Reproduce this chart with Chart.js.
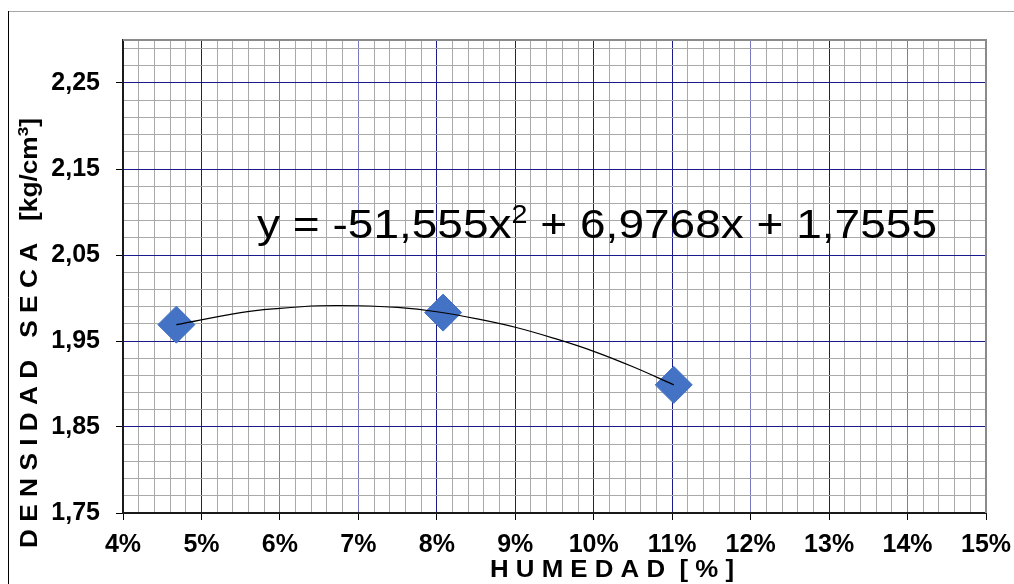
<!DOCTYPE html>
<html>
<head>
<meta charset="utf-8">
<script src="https://cdn.jsdelivr.net/npm/chart.js@4/dist/chart.umd.min.js"></script>
<style>
html,body{margin:0;padding:0;background:#fff;overflow:hidden}
#wrap{position:relative;width:1014px;height:584px}
canvas{display:block}
</style>
</head>
<body>
<div id="wrap"><canvas id="c" width="1014" height="584"></canvas></div>
<script>
// ---- data ----
const humedad = [4.68, 8.08, 11.02];            // x, %
const densidad = [1.969, 1.983, 1.899];         // y, kg/cm3
const trendX = [4.68, 5.5, 6.0, 6.5, 7.0, 7.5, 8.0, 8.5, 9.0, 9.5, 10.0, 10.5, 11.02];
const trendY = [1.969, 1.983, 1.988, 1.991, 1.991, 1.989, 1.984, 1.976, 1.966, 1.953, 1.938, 1.920, 1.899];
const xMajorTicks = [4, 5, 6, 7, 8, 9, 10, 11, 12, 13, 14, 15];
const xTickLabels = ['4%', '5%', '6%', '7%', '8%', '9%', '10%', '11%', '12%', '13%', '14%', '15%'];
const yMajorTicks = [1.75, 1.85, 1.95, 2.05, 2.15, 2.25];
const yTickLabels = ['1,75', '1,85', '1,95', '2,05', '2,15', '2,25'];
const equationParts = ['y = -51,555x', '2', ' + 6,9768x + 1,7555'];
const xTitle = 'H U M E D A D  [ % ]';
const yTitleParts = ['D E N S I D A D   S E C A   [kg/cm', '3', ']'];

// ---- axis settings ----
const X_MIN = 4, X_MAX = 15, X_MINOR = 0.2;
const Y_MIN = 1.75, Y_MAX = 2.30, Y_MINOR = 0.02;
const FONT = '"Liberation Sans", Arial, sans-serif';

function majorIndex(list, v) {
  for (let i = 0; i < list.length; i++) if (Math.abs(list[i] - v) < 1e-6) return i;
  return -1;
}
const lightMajorX = [6, 7, 12, 14];
function xGridColor(v) {
  const i = majorIndex(xMajorTicks, v);
  if (i < 0) return '#a9a9a9';
  return lightMajorX.indexOf(xMajorTicks[i]) >= 0 ? '#7a7ac4' : '#1a1a8c';
}
function yGridColor(v) {
  return majorIndex(yMajorTicks, v) >= 0 ? '#1a1a8c' : '#a9a9a9';
}

const decor = {
  id: 'decor',
  beforeDraw(chart) {
    const ctx = chart.ctx;
    ctx.save();
    ctx.fillStyle = '#fff';
    ctx.fillRect(0, 0, chart.width, chart.height);
    ctx.lineWidth = 1;
    ctx.strokeStyle = '#a6a6a6';
    ctx.beginPath(); ctx.moveTo(8, 11.5); ctx.lineTo(1014, 11.5); ctx.stroke();
    ctx.strokeStyle = '#000';
    ctx.beginPath(); ctx.moveTo(8.5, 11); ctx.lineTo(8.5, 584); ctx.stroke();
    ctx.restore();
  },
  afterDraw(chart) {
    const ctx = chart.ctx;
    const a = chart.chartArea;
    ctx.save();
    // top & right plot border
    ctx.strokeStyle = '#8a8a8a';
    ctx.lineWidth = 2;
    ctx.beginPath();
    ctx.moveTo(a.left, a.top); ctx.lineTo(a.right, a.top); ctx.lineTo(a.right, a.bottom);
    ctx.stroke();

    ctx.fillStyle = '#000';
    ctx.textBaseline = 'alphabetic';
    ctx.textAlign = 'left';

    // equation
    ctx.save();
    const eqFont = '40px ' + FONT, eqSup = '25px ' + FONT;
    ctx.font = eqFont; const w0 = ctx.measureText(equationParts[0]).width;
    const w2 = ctx.measureText(equationParts[2]).width;
    ctx.font = eqSup; const w1 = ctx.measureText(equationParts[1]).width;
    const eqTotal = w0 + w1 + w2;
    ctx.translate(257, 238);
    ctx.scale(680 / eqTotal, 1);
    ctx.font = eqFont; ctx.fillText(equationParts[0], 0, 0);
    ctx.font = eqSup; ctx.fillText(equationParts[1], w0, -15);
    ctx.font = eqFont; ctx.fillText(equationParts[2], w0 + w1, 0);
    ctx.restore();

    // x title
    ctx.save();
    ctx.font = 'bold 23px ' + FONT;
    const xw = ctx.measureText(xTitle).width;
    ctx.translate(490, 577);
    ctx.scale(244 / xw, 1);
    ctx.fillText(xTitle, 0, 0);
    ctx.restore();

    // y title (rotated)
    ctx.save();
    const yf = 'bold 23px ' + FONT, ys = 'bold 15px ' + FONT;
    ctx.font = yf; const y0 = ctx.measureText(yTitleParts[0]).width;
    const y2 = ctx.measureText(yTitleParts[2]).width;
    ctx.font = ys; const y1 = ctx.measureText(yTitleParts[1]).width;
    ctx.translate(37, 548);
    ctx.rotate(-Math.PI / 2);
    ctx.scale(430 / (y0 + y1 + y2), 1);
    ctx.font = yf; ctx.fillText(yTitleParts[0], 0, 0);
    ctx.font = ys; ctx.fillText(yTitleParts[1], y0, -9);
    ctx.font = yf; ctx.fillText(yTitleParts[2], y0 + y1, 0);
    ctx.restore();

    ctx.restore();
  }
};

new Chart(document.getElementById('c'), {
  type: 'scatter',
  data: {
    datasets: [
      {
        type: 'line',
        label: 'tendencia',
        data: trendX.map((x, i) => ({ x: x, y: trendY[i] })),
        borderColor: '#000',
        borderWidth: 1.2,
        pointRadius: 0,
        tension: 0.4,
        fill: false,
        order: 0
      },
      {
        type: 'scatter',
        label: 'densidad',
        data: humedad.map((x, i) => ({ x: x, y: densidad[i] })),
        pointStyle: 'rectRot',
        pointRadius: 18.5,
        backgroundColor: '#4472C4',
        borderColor: '#4472C4',
        borderWidth: 1,
        order: 1
      }
    ]
  },
  options: {
    responsive: false,
    animation: false,
    devicePixelRatio: 1,
    events: [],
    layout: { padding: { top: 40, right: 28, left: 0, bottom: 0 } },
    plugins: { legend: { display: false }, tooltip: { enabled: false } },
    scales: {
      x: {
        type: 'linear',
        min: X_MIN, max: X_MAX,
        afterBuildTicks(scale) {
          const t = [];
          const n = Math.round((X_MAX - X_MIN) / X_MINOR);
          for (let i = 0; i <= n; i++) t.push({ value: Math.round((X_MIN + i * X_MINOR) * 1000) / 1000 });
          scale.ticks = t;
        },
        afterFit(scale) { scale.height = 71; scale.paddingLeft = 0; scale.paddingRight = 0; },
        ticks: {
          autoSkip: false, maxRotation: 0, minRotation: 0,
          padding: 10,
          color: '#000',
          font: { family: FONT, size: 25, weight: 'bold' },
          callback(v) { const i = majorIndex(xMajorTicks, v); return i >= 0 ? xTickLabels[i] : ''; }
        },
        grid: {
          color: (c) => xGridColor(c.tick.value),
          lineWidth: 1,
          drawTicks: true,
          tickLength: 7,
          tickColor: (c) => majorIndex(xMajorTicks, c.tick.value) >= 0 ? '#000' : 'rgba(0,0,0,0)',
          tickWidth: 1
        },
        border: { display: true, color: '#1a1a1a', width: 2 }
      },
      y: {
        type: 'linear',
        min: Y_MIN, max: Y_MAX,
        afterBuildTicks(scale) {
          const t = [];
          const n = Math.floor((Y_MAX - Y_MIN) / Y_MINOR + 1e-6);
          for (let i = 0; i <= n; i++) t.push({ value: Math.round((Y_MIN + i * Y_MINOR) * 1000) / 1000 });
          t.push({ value: Y_MAX });
          scale.ticks = t;
        },
        afterFit(scale) { scale.width = 123; scale.paddingTop = 0; scale.paddingBottom = 0; },
        ticks: {
          autoSkip: false,
          padding: 16,
          color: '#000',
          font: { family: FONT, size: 25, weight: 'bold' },
          callback(v) { const i = majorIndex(yMajorTicks, v); return i >= 0 ? yTickLabels[i] : ''; }
        },
        grid: {
          color: (c) => yGridColor(c.tick.value),
          lineWidth: 1,
          drawTicks: true,
          tickLength: 7,
          tickColor: (c) => majorIndex(yMajorTicks, c.tick.value) >= 0 ? '#000' : 'rgba(0,0,0,0)',
          tickWidth: 1
        },
        border: { display: true, color: '#1a1a1a', width: 2 }
      }
    }
  },
  plugins: [decor]
});
</script>
</body>
</html>
